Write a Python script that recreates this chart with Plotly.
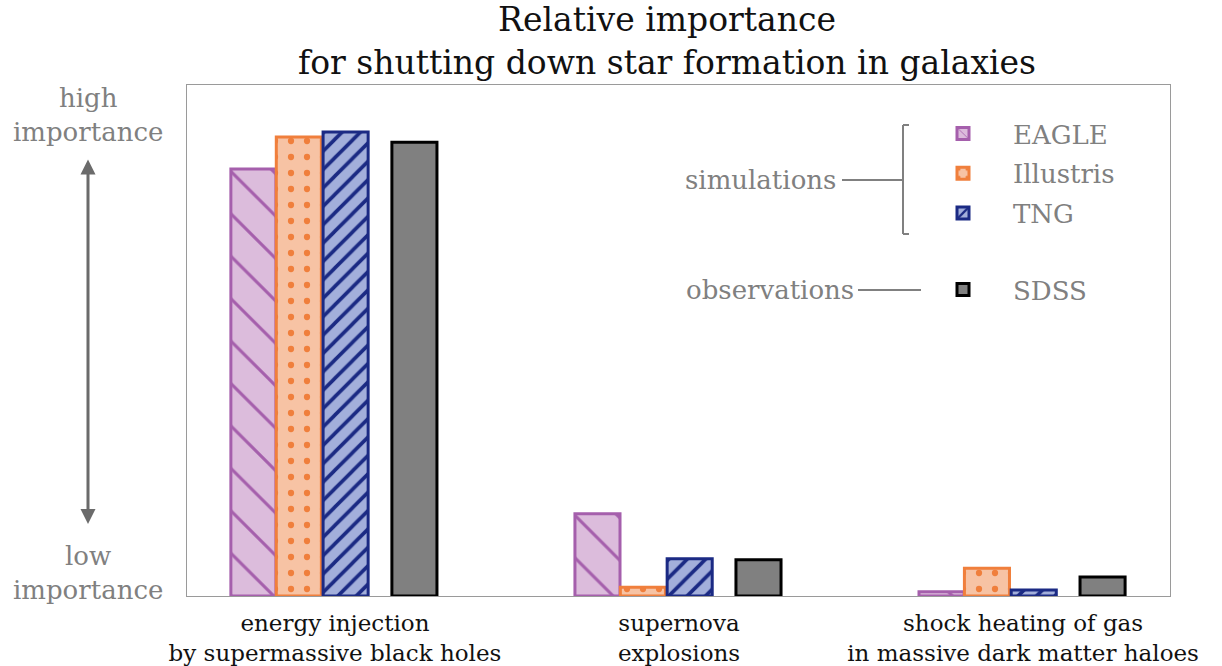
import plotly.graph_objects as go

# ---- data ----
categories = [
    "energy injection<br>by supermassive black holes",
    "supernova<br>explosions",
    "shock heating of gas<br>in massive dark matter haloes",
]
eagle = [0.919, 0.177, 0.009]
illustris = [0.988, 0.019, 0.060]
tng = [0.999, 0.080, 0.013]
sdss = [0.977, 0.078, 0.041]

series_names = ["EAGLE", "Illustris", "TNG", "SDSS"]

# ---- layout helpers (plot area in px) ----
W, H = 1222, 666
L, R, T, B = 187, 1170, 85, 596


def px(xp):
    return (xp - L) / (R - L)


def py(yp):
    return (B - yp) / (B - T)


GRAY = "#808080"
SERIF = "DejaVu Serif"

styles = {
    "EAGLE": dict(fill="#dcbcdc", line="#a55fac", shape="\\", size=30, solidity=0.10, off=-0.237),
    "Illustris": dict(fill="#f7c3a4", line="#f07f3c", shape=".", size=16, solidity=0.12, off=-0.105),
    "TNG": dict(fill="#a3afdb", line="#1b2a84", shape="/", size=13, solidity=0.28, off=0.031),
    "SDSS": dict(fill="#808080", line="#000000", shape="", size=10, solidity=0.2, off=0.231),
}
values = {"EAGLE": eagle, "Illustris": illustris, "TNG": tng, "SDSS": sdss}
BAR_W = 0.131

fig = go.Figure()
for name in series_names:
    s = styles[name]
    xs = [i + s["off"] for i in range(len(categories))]
    marker = dict(color=s["fill"], line=dict(color=s["line"], width=3))
    if s["shape"]:
        marker["pattern"] = dict(shape=s["shape"], fgcolor=s["line"], bgcolor=s["fill"],
                                 size=s["size"], solidity=s["solidity"], fillmode="replace")
    fig.add_trace(go.Bar(
        x=xs, y=values[name], width=BAR_W, name=name, marker=marker,
        legendgroup=name,
        legend="legend2" if name == "SDSS" else "legend",
        hoverinfo="skip",
    ))

fig.update_layout(
    width=W, height=H,
    margin=dict(l=L, r=W - R, t=T, b=H - B, autoexpand=False),
    plot_bgcolor="white", paper_bgcolor="white",
    barmode="overlay",
    font=dict(family=SERIF, color="#111111"),
    xaxis=dict(
        range=[-0.430, 2.427], tickvals=list(range(len(categories))), ticktext=categories,
        showgrid=False, zeroline=False, showline=True, mirror=True, automargin=False,
        linecolor="#9a9a9a", linewidth=1, ticks="", ticklabelstandoff=6,
        tickfont=dict(family=SERIF, size=23, color="#111111"),
    ),
    yaxis=dict(
        range=[0, 1.1], showticklabels=False, showgrid=False, zeroline=False, automargin=False,
        showline=True, mirror=True, linecolor="#9a9a9a", linewidth=1, ticks="",
    ),
    legend=dict(
        x=px(913), y=py(110), xanchor="left", yanchor="top",
        font=dict(family=SERIF, size=26, color=GRAY), itemwidth=90,
        tracegroupgap=3, bgcolor="rgba(0,0,0,0)",
    ),
    legend2=dict(
        x=px(913), y=py(266), xanchor="left", yanchor="top",
        font=dict(family=SERIF, size=26, color=GRAY), itemwidth=90,
        bgcolor="rgba(0,0,0,0)",
    ),
    showlegend=True,
)

line_style = dict(color=GRAY, width=2)
shapes = [
    # simulations connector
    dict(type="line", x0=px(842), x1=px(903), y0=py(180), y1=py(180)),
    # bracket
    dict(type="line", x0=px(903), x1=px(903), y0=py(125), y1=py(234)),
    dict(type="line", x0=px(903), x1=px(909), y0=py(125), y1=py(125)),
    dict(type="line", x0=px(903), x1=px(909), y0=py(234), y1=py(234)),
    # observations connector
    dict(type="line", x0=px(858), x1=px(921), y0=py(290), y1=py(290)),
]
for sh in shapes:
    sh.update(xref="paper", yref="paper", line=line_style)
fig.update_layout(shapes=shapes)

ann_font = dict(family=SERIF, size=26, color=GRAY)
fig.add_annotation(text="Relative importance<br>for shutting down star formation in galaxies",
                   xref="paper", yref="paper", x=px(667), y=py(41),
                   xanchor="center", yanchor="middle", showarrow=False,
                   font=dict(family=SERIF, size=33, color="#111111"))
fig.add_annotation(text="simulations", xref="paper", yref="paper", x=px(838), y=py(180),
                   xanchor="right", yanchor="middle", showarrow=False, font=ann_font)
fig.add_annotation(text="observations", xref="paper", yref="paper", x=px(856), y=py(290),
                   xanchor="right", yanchor="middle", showarrow=False, font=ann_font)
fig.add_annotation(text="high<br>importance", xref="paper", yref="paper", x=px(88), y=py(115),
                   xanchor="center", yanchor="middle", showarrow=False, font=ann_font)
fig.add_annotation(text="low<br>importance", xref="paper", yref="paper", x=px(88), y=py(573),
                   xanchor="center", yanchor="middle", showarrow=False, font=ann_font)
# double-headed arrow
fig.add_annotation(text="", xref="paper", yref="paper", x=px(88), y=py(524),
                   ax=0, ay=-(524 - 158), showarrow=True, arrowside="end+start",
                   arrowhead=2, arrowsize=1, arrowwidth=3, arrowcolor="#6b6b6b")

fig.write_html("out.html", post_script="document.body.style.margin='0';",
               config={"displayModeBar": False})
